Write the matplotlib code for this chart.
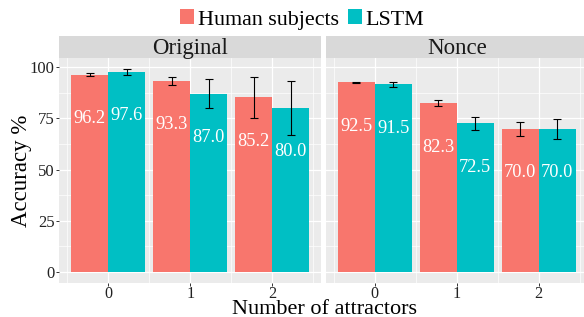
import matplotlib
matplotlib.use("Agg")
import matplotlib.pyplot as plt
from matplotlib.patches import Patch
import numpy as np

plt.rcParams['font.family'] = ['Liberation Serif', 'DejaVu Serif']

# ---- data ----
attractors = ["0", "1", "2"]
conditions = ["Original", "Nonce"]
series_names = ["Human subjects", "LSTM"]

human_original = [96.2, 93.3, 85.2]
lstm_original = [97.6, 87.0, 80.0]
human_nonce = [92.5, 82.3, 70.0]
lstm_nonce = [91.5, 72.5, 70.0]

human_original_err = [0.7, 1.85, 10.0]
lstm_original_err = [1.55, 7.2, 13.3]
human_nonce_err = [0.4, 1.45, 3.4]
lstm_nonce_err = [1.0, 3.2, 4.9]

y_ticks = [0, 25, 50, 75, 100]

# ---- styling ----
RED = "#F8766D"
TEAL = "#00BFC4"
PANEL_BG = "#EBEBEB"
STRIP_BG = "#D9D9D9"
W, H = 584, 317

fig = plt.figure(figsize=(W / 100, H / 100), dpi=100)


def rect(x0, y0, x1, y1):
    return [x0 / W, 1 - y1 / H, (x1 - x0) / W, (y1 - y0) / H]


panels = [
    (rect(59, 58, 321.4, 283), rect(59, 36, 321.4, 58), human_original, lstm_original,
     human_original_err, lstm_original_err, conditions[0]),
    (rect(325.5, 58, 588, 283), rect(325.5, 36, 588, 58), human_nonce, lstm_nonce,
     human_nonce_err, lstm_nonce_err, conditions[1]),
]

x = np.arange(len(attractors))
bw = 0.45
for i, (prect, srect, hv, lv, he, le, title) in enumerate(panels):
    ax = fig.add_axes(prect)
    ax.set_facecolor(PANEL_BG)
    for s in ax.spines.values():
        s.set_visible(False)
    ax.set_xlim(-0.6, 2.6)
    ax.set_ylim(-5.3, 104.4)
    ax.set_yticks(y_ticks)
    ax.set_yticks([12.5, 37.5, 62.5, 87.5], minor=True)
    ax.set_xticks(x)
    ax.set_xticklabels(attractors)
    ax.set_xticks([-0.5, 0.5, 1.5, 2.5], minor=True)
    ax.grid(which='major', color='white', linewidth=0.9)
    ax.grid(which='minor', color='white', linewidth=0.5)
    ax.set_axisbelow(True)
    ax.tick_params(which='minor', length=0)
    ax.tick_params(which='major', length=2, width=0.7, color='#333333',
                   labelsize=12, labelcolor='#222222', pad=1)
    ax.tick_params(axis='x', which='major', pad=0.5, labelsize=11.6)
    if i == 1:
        ax.tick_params(axis='y', which='major', left=False, labelleft=False)

    ax.bar(x - bw / 2, hv, width=bw, color=RED, zorder=2)
    ax.bar(x + bw / 2, lv, width=bw, color=TEAL, zorder=2)
    ax.errorbar(x - bw / 2, hv, yerr=he, fmt='none', ecolor='black',
                elinewidth=0.8, capsize=3.2, capthick=0.8, zorder=3)
    ax.errorbar(x + bw / 2, lv, yerr=le, fmt='none', ecolor='black',
                elinewidth=0.8, capsize=3.2, capthick=0.8, zorder=3)
    for xs, vals in ((x - bw / 2, hv), (x + bw / 2, lv)):
        for xx, v in zip(xs, vals):
            ax.annotate(f"{v:.1f}", (xx, v), xytext=(0, -31.5),
                        textcoords='offset points', ha='center', va='center',
                        color='white', fontsize=13.2, zorder=4)

    sax = fig.add_axes(srect)
    sax.set_facecolor(STRIP_BG)
    sax.set_xticks([])
    sax.set_yticks([])
    for s in sax.spines.values():
        s.set_visible(False)
    sax.text(0.5, 0.45, title, transform=sax.transAxes, ha='center',
             va='center', fontsize=16.5, color='#1A1A1A')

fig.text(22 / W, 1 - 170.5 / H, "Accuracy %", rotation=90, ha='center',
         va='center', fontsize=16.5, color='black')
fig.text(324 / W, 1 - 313.5 / H, "Number of attractors", ha='center',
         va='baseline', fontsize=16, color='black')

handles = [Patch(facecolor=RED, edgecolor='none'), Patch(facecolor=TEAL, edgecolor='none')]
fig.legend(handles, series_names, loc='center', bbox_to_anchor=(302 / W, 1 - 19.5 / H),
           ncol=2, frameon=False, fontsize=15.8, handlelength=0.68, handleheight=0.68,
           handletextpad=0.15, columnspacing=0.4, borderpad=0, borderaxespad=0)

fig.savefig("out.png", dpi=100)
